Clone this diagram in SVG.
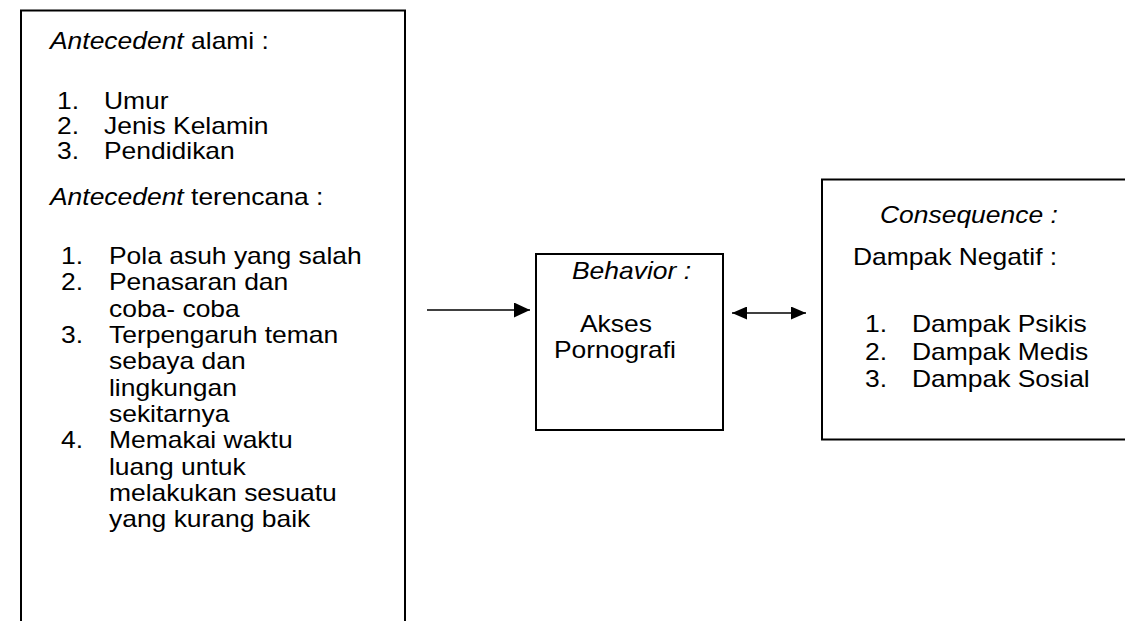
<svg xmlns="http://www.w3.org/2000/svg" width="1125" height="621" viewBox="0 0 1125 621">
<style>
.box{fill:none;stroke:#000;stroke-width:2}
.t{font-family:"Liberation Sans",Arial,sans-serif;font-size:23px;fill:#000}
.i{font-style:italic}
.edge{stroke:#000;stroke-width:1.5;fill:none}
</style>
<defs>
<marker id="ah" markerUnits="userSpaceOnUse" markerWidth="16" markerHeight="15" refX="16" refY="7.5" orient="auto-start-reverse">
<path d="M0,0 L16,7.5 L0,15 Z" fill="#000"/>
</marker>
<marker id="ah2" markerUnits="userSpaceOnUse" markerWidth="15" markerHeight="13" refX="15" refY="6.5" orient="auto-start-reverse">
<path d="M0,0 L15,6.5 L0,13 Z" fill="#000"/>
</marker>
</defs>
<rect width="1125" height="621" fill="#fff"/>
<g id="antecedent">
<path class="box" d="M21,625 V10.5 H405 V625"/>
<g transform="scale(1.15,1)">
<text class="t" x="43.48" y="49"><tspan class="i">Antecedent</tspan> alami :</text>
<text class="t" x="49.57" y="109">1.</text><text class="t" x="90.43" y="109">Umur</text>
<text class="t" x="49.57" y="134">2.</text><text class="t" x="90.43" y="134">Jenis Kelamin</text>
<text class="t" x="49.57" y="159">3.</text><text class="t" x="90.43" y="159">Pendidikan</text>
<text class="t" x="43.48" y="205"><tspan class="i">Antecedent</tspan> terencana :</text>
<text class="t" x="53.04" y="264">1.</text><text class="t" x="94.78" y="264">Pola asuh yang salah</text>
<text class="t" x="53.04" y="290.5">2.</text><text class="t" x="94.78" y="290.5">Penasaran dan</text>
<text class="t" x="94.78" y="317">coba- coba</text>
<text class="t" x="53.04" y="343">3.</text><text class="t" x="94.78" y="343">Terpengaruh teman</text>
<text class="t" x="94.78" y="369.5">sebaya dan</text>
<text class="t" x="94.78" y="396">lingkungan</text>
<text class="t" x="94.78" y="422">sekitarnya</text>
<text class="t" x="53.04" y="448.5">4.</text><text class="t" x="94.78" y="448.5">Memakai waktu</text>
<text class="t" x="94.78" y="475">luang untuk</text>
<text class="t" x="94.78" y="501">melakukan sesuatu</text>
<text class="t" x="94.78" y="527">yang kurang baik</text>
</g>
</g>
<g id="behavior">
<rect class="box" x="536" y="254" width="187" height="176"/>
<g transform="scale(1.15,1)">
<text class="t i" x="497.39" y="279">Behavior :</text>
<text class="t" x="504.35" y="332">Akses</text>
<text class="t" x="481.74" y="358">Pornografi</text>
</g>
</g>
<g id="consequence">
<rect class="box" x="822" y="179.5" width="320" height="260"/>
<g transform="scale(1.15,1)">
<text class="t i" x="765.22" y="223">Consequence :</text>
<text class="t" x="741.74" y="265">Dampak Negatif :</text>
<text class="t" x="752.17" y="332">1.</text><text class="t" x="793.04" y="332">Dampak Psikis</text>
<text class="t" x="752.17" y="360">2.</text><text class="t" x="793.04" y="360">Dampak Medis</text>
<text class="t" x="752.17" y="387">3.</text><text class="t" x="793.04" y="387">Dampak Sosial</text>
</g>
</g>
<g id="connectors">
<line class="edge" x1="427" y1="310" x2="530" y2="310" marker-end="url(#ah)"/>
<line class="edge" x1="732" y1="313" x2="806" y2="313" marker-start="url(#ah2)" marker-end="url(#ah2)"/>
</g>
</svg>
